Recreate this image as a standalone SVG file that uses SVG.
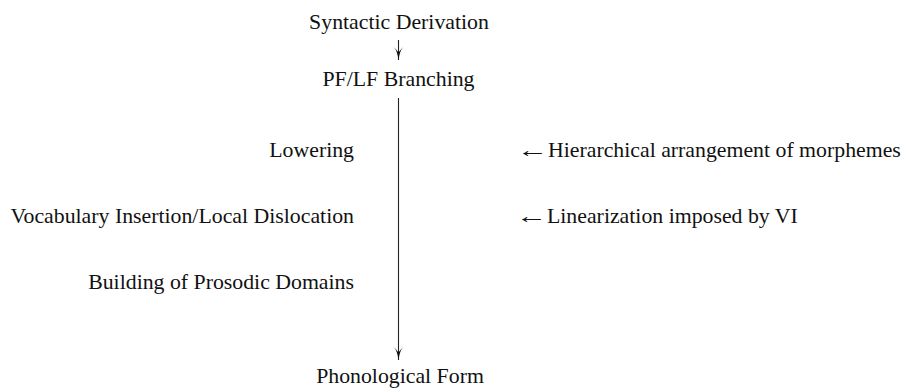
<svg xmlns="http://www.w3.org/2000/svg" width="907" height="388" viewBox="0 0 907 388">
<style>
text{font-family:"Liberation Serif","Times New Roman",serif;font-size:21.8px;fill:#111}
.c{text-anchor:middle}
.r{text-anchor:end}
.ln{stroke:#222;stroke-width:1.1;fill:none}
.hd{fill:#111}
</style>
<rect width="907" height="388" fill="#fff"/>
<g id="connectors">
<line class="ln" x1="398.5" y1="40" x2="398.5" y2="60"/>
<path class="hd" d="M393.8,47 Q397.6,51.5 398.5,60.5 Q399.4,51.5 403.2,47 Q400,50.5 398.5,52.5 Q397,50.5 393.8,47Z"/>
<line class="ln" x1="398.5" y1="98" x2="398.5" y2="360"/>
<path class="hd" d="M393.8,347 Q397.6,351.5 398.5,360.5 Q399.4,351.5 403.2,347 Q400,350.5 398.5,352.5 Q397,350.5 393.8,347Z"/>
</g>
<g id="syntactic-derivation"><text class="c" x="399" y="29">Syntactic Derivation</text></g>
<g id="pf-lf-branching"><text class="c" x="398.5" y="86">PF/LF Branching</text></g>
<g id="lowering"><text class="r" x="354" y="157">Lowering</text></g>
<g id="vocabulary-insertion"><text class="r" x="354" y="223">Vocabulary Insertion/Local Dislocation</text></g>
<g id="building-prosodic"><text class="r" x="354" y="289">Building of Prosodic Domains</text></g>
<g id="phonological-form"><text class="c" x="400" y="383">Phonological Form</text></g>
<g id="hierarchical"><text transform="translate(517,157) scale(1.45,1)" x="0" y="0">←</text><text x="548" y="157">Hierarchical arrangement of morphemes</text></g>
<g id="linearization"><text transform="translate(516,223) scale(1.45,1)" x="0" y="0">←</text><text x="547" y="223">Linearization imposed by VI</text></g>
</svg>
